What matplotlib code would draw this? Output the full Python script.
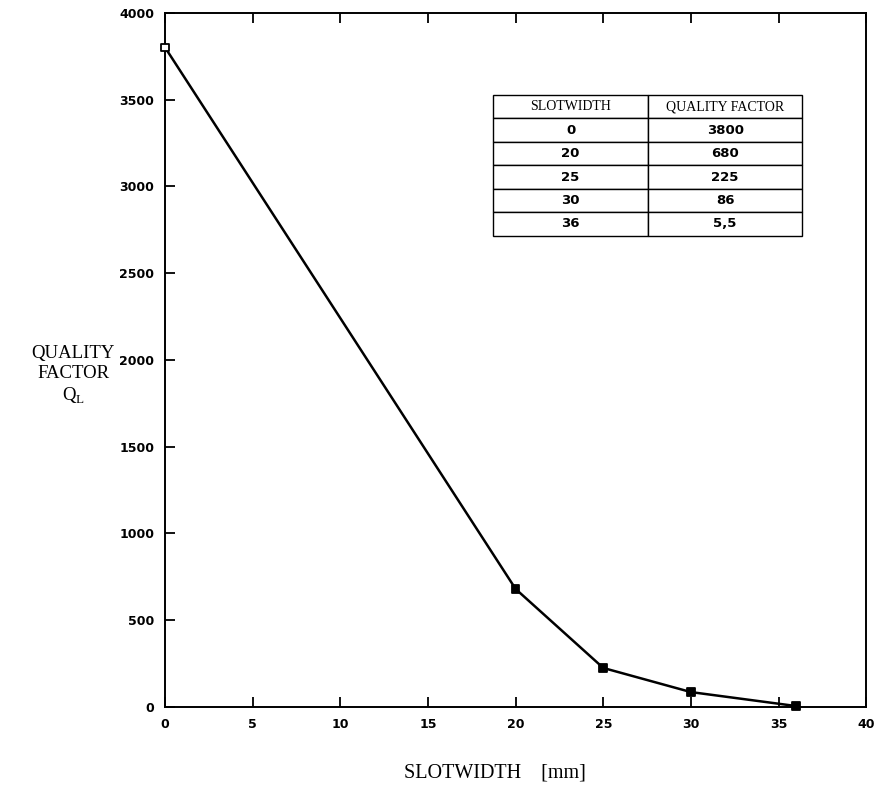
import matplotlib.pyplot as plt
import numpy as np

slotwidth = [0, 20, 25, 30, 36]
quality = [3800, 680, 225, 86, 5.5]
quality_txt = ["3800", "680", "225", "86", "5,5"]
xticks = [0, 5, 10, 15, 20, 25, 30, 35, 40]
yticks = [0, 500, 1000, 1500, 2000, 2500, 3000, 3500, 4000]

fig = plt.figure(figsize=(8.74, 8.08), dpi=100)
ax = fig.add_axes([0.189, 0.125, 0.802, 0.859])

ax.plot(slotwidth, quality, color='black', lw=1.8, zorder=3)
faces = ['white'] + ['black'] * (len(slotwidth) - 1)
ax.scatter(slotwidth, quality, marker='s', s=30, facecolors=faces,
           edgecolors='black', linewidths=1.3, zorder=4, clip_on=False)

ax.set_xlim(0, 40)
ax.set_ylim(0, 4000)
ax.set_xticks(xticks)
ax.set_yticks(yticks)
ax.tick_params(direction='in', length=7, width=1.3, top=True, right=False,
               labelsize=9, pad=8)
for lab in ax.get_xticklabels() + ax.get_yticklabels():
    lab.set_fontweight('semibold')
for s in ax.spines.values():
    s.set_linewidth(1.4)

# table
rows = [[str(s), q] for s, q in zip(slotwidth, quality_txt)]
tab = ax.table(cellText=rows, colLabels=["SLOTWIDTH", "QUALITY FACTOR"],
               cellLoc='center', bbox=[0.468, 0.679, 0.441, 0.203])
tab.auto_set_font_size(False)
for (r, c), cell in tab.get_celld().items():
    cell.set_linewidth(1.0)
    if r == 0:
        cell.get_text().set_fontfamily('Liberation Serif')
        cell.get_text().set_fontsize(10)
    else:
        cell.get_text().set_fontsize(9.5)
        cell.get_text().set_fontweight('semibold')

fig.text(0.084, 0.535, "QUALITY\nFACTOR\nQ$_\\mathregular{L}$", ha='center',
         va='center', fontsize=13.5, family='Liberation Serif', linespacing=1.25)
fig.text(0.566, 0.043, "SLOTWIDTH    [mm]", ha='center', va='center',
         fontsize=14.5, family='Liberation Serif')

fig.savefig('out.png', dpi=100)
